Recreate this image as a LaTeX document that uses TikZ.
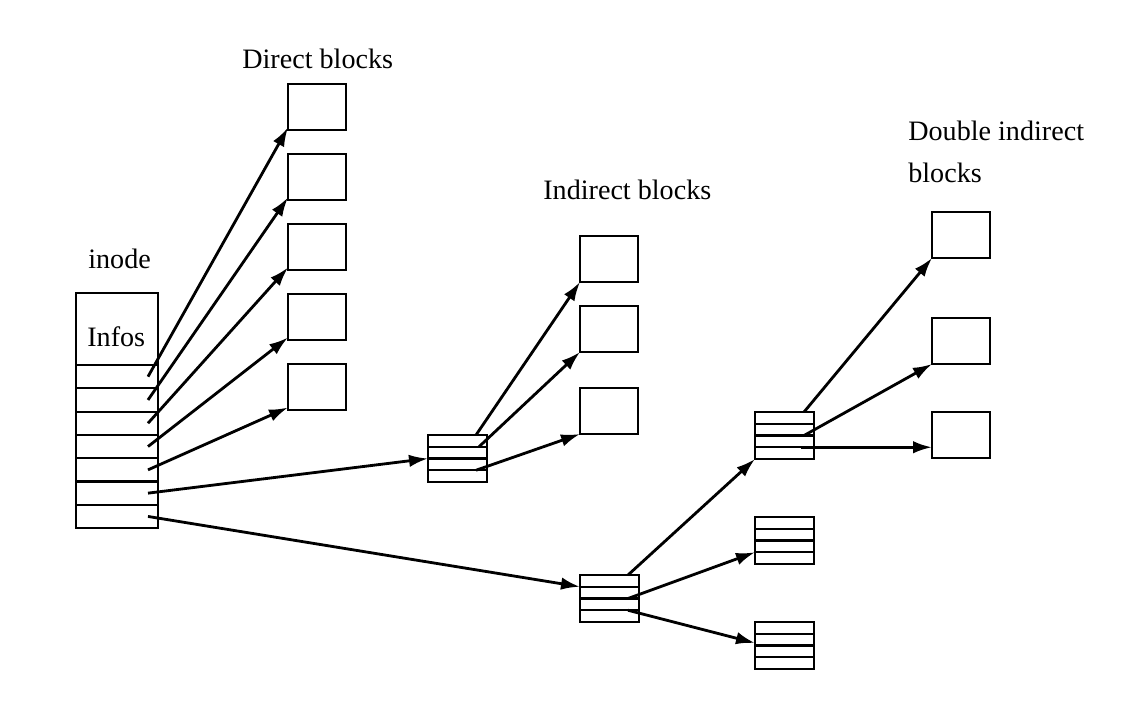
\documentclass[tikz,border=0pt]{standalone}
\usepackage{fontspec}
\setmainfont{Liberation Serif}
\usetikzlibrary{arrows.meta}

\begin{document}
\begin{tikzpicture}[
        x=0.2mm, y=-0.2mm,
        block/.style={draw, line width=1.2pt, anchor=north west, inner sep=0pt, outer sep=0pt, minimum width=11.6mm, minimum height=9.2mm},
        slot/.style={draw, line width=1.2pt, anchor=north west, inner sep=0pt, outer sep=0pt, minimum width=16.4mm, minimum height=4.66mm},
        row/.style={draw, line width=1.2pt, anchor=north west, inner sep=0pt, outer sep=0pt, minimum width=11.8mm, minimum height=2.35mm},
        pointer/.style={-{Latex[length=3.8mm, width=2.5mm]}, line width=1.6pt},
        title/.style={font=\fontsize{16}{19}\selectfont, anchor=base west, inner sep=0pt}
    ]
    \useasboundingbox (0,0) rectangle (1122,727);

    % inode
    \node[title] (inode label) at (88,268) {inode};
    \node[slot, minimum height=14.4mm] (infos) at (76,293) {};
    \node[title] (infos label) at (87,346) {Infos};
    \foreach \i in {1,...,7}
        \node[slot] (slot-\i) at (76,{365+(\i-1)*23.3}) {};

    % direct blocks
    \node[title] (direct label) at (242,69) {Direct blocks};
    \foreach \i in {1,...,5} {
        \node[block] (direct-\i) at (288,{84+(\i-1)*70}) {};
        \draw[pointer] ([xshift=-2mm]slot-\i.east) -- ([yshift=0.5mm]direct-\i.south west);
    }

    % index blocks
    \foreach \name/\bx/\by in {ind/428/435, dind/580/575, dA/755/412, dB/755/517, dC/755/622}
        \foreach \r in {1,...,4}
            \node[row] (\name-\r) at (\bx,{\by+(\r-1)*11.75}) {};

    % indirect blocks
    \node[title] (indirect label) at (543,199) {Indirect blocks};
    \foreach \i/\y in {1/236, 2/306, 3/388}
        \node[block] (indirect-\i) at (580,\y) {};

    \draw[pointer] ([xshift=-2mm]slot-6.east) -- (ind-2.south west);
    \draw[pointer] ([xshift=-2.2mm]ind-1.north east) -- (indirect-1.south west);
    \draw[pointer] ([xshift=-1.6mm]ind-1.south east) -- (indirect-2.south west);
    \draw[pointer] ([xshift=-2.2mm]ind-3.south east) -- (indirect-3.south west);

    % double indirect blocks
    \node[title] (double label) at (908,140) {Double indirect};
    \node[title] (double label 2) at (908,182) {blocks};
    \foreach \i/\y in {1/212, 2/318, 3/412}
        \node[block] (double-\i) at (932,\y) {};

    \draw[pointer] ([xshift=-2mm]slot-7.east) -- (dind-1.south west);
    \draw[pointer] ([xshift=-2.2mm]dind-1.north east) -- (dA-4.south west);
    \draw[pointer] ([xshift=-2.2mm]dind-2.south east) -- (dB-3.south west);
    \draw[pointer] ([xshift=-2.2mm]dind-3.south east) -- ([yshift=0.5mm]dC-2.south west);

    \draw[pointer] ([xshift=-2mm]dA-1.north east) -- (double-1.south west);
    \draw[pointer] ([xshift=-2mm]dA-2.south east) -- (double-2.south west);
    \draw[pointer] ([xshift=-2.6mm]dA-3.south east) -- (double-3.west |- dA-3.south);

\end{tikzpicture}
\end{document}
